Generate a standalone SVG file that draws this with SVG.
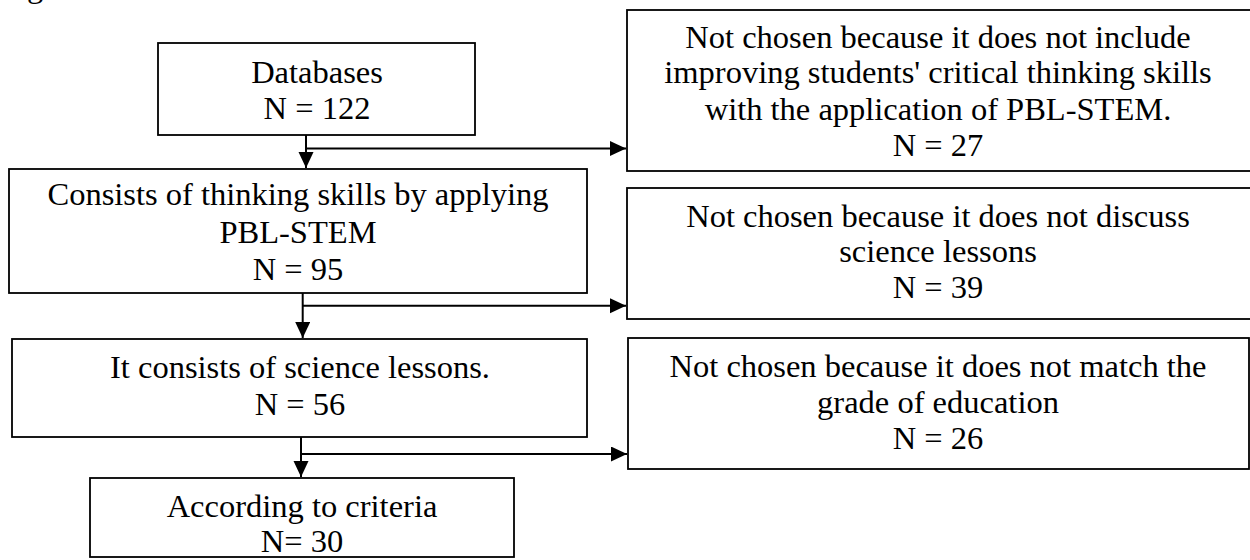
<svg xmlns="http://www.w3.org/2000/svg" width="1250" height="560" viewBox="0 0 1250 560">
<style>
.box{fill:#fff;stroke:#000;stroke-width:1.8}
.t{font-family:"Liberation Serif","Times New Roman",serif;font-size:32.5px;fill:#000;text-anchor:middle}
.c{fill:none;stroke:#000;stroke-width:2}
</style>
<defs>
<marker id="ah" markerUnits="userSpaceOnUse" markerWidth="17" markerHeight="16" refX="16" refY="7.5" orient="auto">
<path d="M0,0 L16,7.5 L0,15 z" fill="#000"/>
</marker>
</defs>
<rect width="1250" height="560" fill="#fff"/>
<text class="t" x="0" y="-3" style="text-anchor:start">Figure 1.</text>
<g id="connectors">
<path class="c" d="M306,135 V168" marker-end="url(#ah)"/>
<path class="c" d="M306,148.5 H626" marker-end="url(#ah)"/>
<path class="c" d="M302.7,293 V338" marker-end="url(#ah)"/>
<path class="c" d="M302.7,305.7 H626" marker-end="url(#ah)"/>
<path class="c" d="M301,437 V477" marker-end="url(#ah)"/>
<path class="c" d="M301,454 H627" marker-end="url(#ah)"/>
</g>
<g id="n1">
<rect class="box" x="158" y="43" width="317" height="92"/>
<text class="t" x="317" y="83">Databases</text>
<text class="t" x="317" y="119">N = 122</text>
</g>
<g id="n2">
<rect class="box" x="9" y="169" width="578" height="124"/>
<text class="t" x="298" y="205">Consists of thinking skills by applying</text>
<text class="t" x="298" y="243">PBL-STEM</text>
<text class="t" x="298" y="280">N = 95</text>
</g>
<g id="n3">
<rect class="box" x="12" y="339" width="575" height="98"/>
<text class="t" x="300" y="378">It consists of science lessons.</text>
<text class="t" x="300" y="415">N = 56</text>
</g>
<g id="n4">
<rect class="box" x="90" y="478" width="424" height="79"/>
<text class="t" x="302" y="517">According to criteria</text>
<text class="t" x="302" y="552">N= 30</text>
</g>
<g id="r1">
<rect class="box" x="627" y="10" width="630" height="161"/>
<text class="t" x="938" y="48">Not chosen because it does not include</text>
<text class="t" x="938" y="83">improving students' critical thinking skills</text>
<text class="t" x="938" y="120">with the application of PBL-STEM.</text>
<text class="t" x="938" y="156">N = 27</text>
</g>
<g id="r2">
<rect class="box" x="627" y="188" width="630" height="131"/>
<text class="t" x="938" y="227">Not chosen because it does not discuss</text>
<text class="t" x="938" y="262">science lessons</text>
<text class="t" x="938" y="298">N = 39</text>
</g>
<g id="r3">
<rect class="box" x="628" y="338" width="621" height="131"/>
<text class="t" x="938" y="377">Not chosen because it does not match the</text>
<text class="t" x="938" y="413">grade of education</text>
<text class="t" x="938" y="449">N = 26</text>
</g>
</svg>
